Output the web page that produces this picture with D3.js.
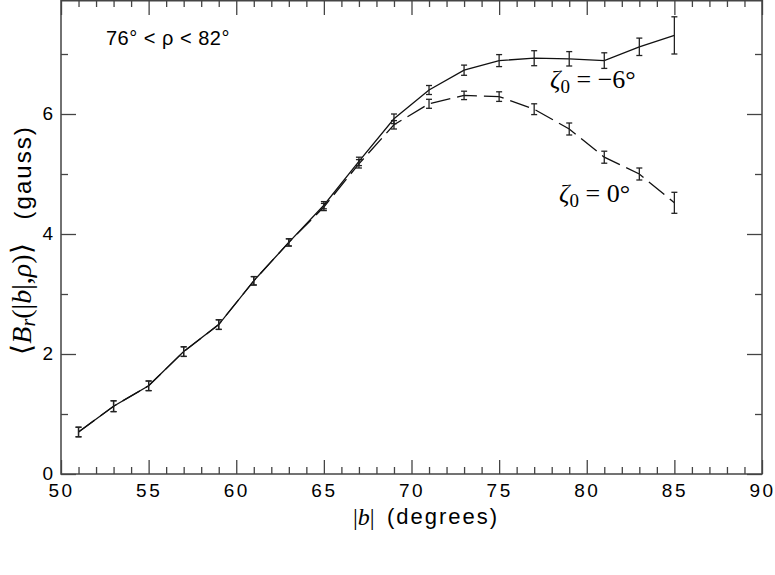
<!DOCTYPE html>
<html>
<head>
<meta charset="utf-8">
<script src="https://cdn.jsdelivr.net/npm/d3@7"></script>
<style>
  html, body { margin: 0; padding: 0; background: #fff; }
  svg { display: block; }
</style>
</head>
<body>
<svg id="chart" width="775" height="575"></svg>
<script>
// ---- data ----
const bValues = [51, 53, 55, 57, 59, 61, 63, 65, 67, 69, 71, 73, 75, 77, 79, 81, 83, 85];
const brZetaMinus6 = [0.70, 1.13, 1.47, 2.04, 2.49, 3.22, 3.86, 4.48, 5.21, 5.92, 6.40, 6.73, 6.89, 6.93, 6.92, 6.89, 7.12, 7.31];
const errZetaMinus6 = [0.08, 0.09, 0.08, 0.08, 0.08, 0.07, 0.06, 0.06, 0.07, 0.08, 0.075, 0.085, 0.10, 0.125, 0.12, 0.13, 0.145, 0.31];
const brZeta0 = [0.70, 1.13, 1.47, 2.04, 2.49, 3.22, 3.86, 4.45, 5.17, 5.82, 6.17, 6.31, 6.29, 6.08, 5.75, 5.28, 5.00, 4.52];
const errZeta0 = [0.08, 0.09, 0.08, 0.08, 0.08, 0.07, 0.06, 0.06, 0.07, 0.07, 0.075, 0.07, 0.08, 0.09, 0.10, 0.10, 0.10, 0.175];
const xMajorTicks = [50, 55, 60, 65, 70, 75, 80, 85, 90];
const yMajorTicks = [0, 2, 4, 6];
const xDomain = [50, 90];
const yDomain = [0, 7.9];

// ---- layout ----
const svg = d3.select("#chart");
const L = 61, R = 762, T = 0, B = 474;
const x = d3.scaleLinear().domain(xDomain).range([L, R]);
const y = d3.scaleLinear().domain(yDomain).range([B, T]);

const sans = "'Liberation Sans', Arial, Helvetica, sans-serif";
const serif = "'Liberation Serif', 'Times New Roman', serif";
const axisColor = "#444";

// frame
svg.append("rect")
  .attr("x", L).attr("y", T + 0.75)
  .attr("width", R - L).attr("height", B - T - 0.75)
  .attr("fill", "none").attr("stroke", axisColor).attr("stroke-width", 1.5);

const xMinor = d3.range(50, 91, 1).filter(v => v % 5 !== 0);
const yMinor = [1, 3, 5, 7];

function styleAxis(g) {
  g.select(".domain").remove();
  g.selectAll(".tick line").attr("stroke", axisColor).attr("stroke-width", 1.3);
}

// bottom major (labels)
svg.append("g").attr("transform", `translate(0,${B})`)
  .call(d3.axisBottom(x).tickValues(xMajorTicks).tickSize(-14).tickPadding(23).tickFormat(d3.format("d")))
  .call(styleAxis)
  .call(g => g.selectAll(".tick text")
      .attr("font-family", sans).attr("font-size", 19).attr("fill", "#000")
      .attr("letter-spacing", "2.5px").attr("dy", "0"));
svg.append("g").attr("transform", `translate(0,${B})`)
  .call(d3.axisBottom(x).tickValues(xMinor).tickSize(-7).tickFormat(""))
  .call(styleAxis);
svg.append("g").attr("transform", `translate(0,${T})`)
  .call(d3.axisTop(x).tickValues(xMajorTicks).tickSize(-15).tickFormat(""))
  .call(styleAxis);
svg.append("g").attr("transform", `translate(0,${T})`)
  .call(d3.axisTop(x).tickValues(xMinor).tickSize(-7).tickFormat(""))
  .call(styleAxis);
// left major (labels)
svg.append("g").attr("transform", `translate(${L},0)`)
  .call(d3.axisLeft(y).tickValues(yMajorTicks).tickSize(-15).tickPadding(8).tickFormat(d3.format("d")))
  .call(styleAxis)
  .call(g => g.selectAll(".tick text")
      .attr("font-family", sans).attr("font-size", 19).attr("fill", "#000").attr("dy", "0.3em"));
svg.append("g").attr("transform", `translate(${L},0)`)
  .call(d3.axisLeft(y).tickValues(yMinor).tickSize(-7).tickFormat(""))
  .call(styleAxis);
svg.append("g").attr("transform", `translate(${R},0)`)
  .call(d3.axisRight(y).tickValues(yMajorTicks).tickSize(-15).tickFormat(""))
  .call(styleAxis);
svg.append("g").attr("transform", `translate(${R},0)`)
  .call(d3.axisRight(y).tickValues(yMinor).tickSize(-7).tickFormat(""))
  .call(styleAxis);

// ---- series ----
function drawSeries(vals, errs, dash) {
  const pts = bValues.map((b, i) => ({ b, v: vals[i], e: errs[i] }));
  const line = d3.line().x(d => x(d.b)).y(d => y(d.v));
  const g = svg.append("g");
  g.append("path").datum(pts)
    .attr("d", line).attr("fill", "none")
    .attr("stroke", "#111").attr("stroke-width", 1.3)
    .attr("stroke-dasharray", dash || null);
  const eb = g.selectAll("g.eb").data(pts).enter().append("g");
  eb.append("line")
    .attr("x1", d => x(d.b)).attr("x2", d => x(d.b))
    .attr("y1", d => y(d.v - d.e)).attr("y2", d => y(d.v + d.e))
    .attr("stroke", "#222").attr("stroke-width", 1.3);
  [1, -1].forEach(s => {
    eb.append("line")
      .attr("x1", d => x(d.b) - 3).attr("x2", d => x(d.b) + 3)
      .attr("y1", d => y(d.v + s * d.e)).attr("y2", d => y(d.v + s * d.e))
      .attr("stroke", "#222").attr("stroke-width", 1.3);
  });
}
drawSeries(brZeta0, errZeta0, "20,7");
drawSeries(brZetaMinus6, errZetaMinus6, null);

// ---- annotations ----
svg.append("text")
  .attr("x", 106).attr("y", 45)
  .attr("font-family", sans).attr("font-size", 20).attr("fill", "#000")
  .attr("letter-spacing", "0.5px")
  .text("76° < ρ < 82°");

function zetaLabel(xp, yp, val) {
  const t = svg.append("text").attr("x", xp).attr("y", yp)
    .attr("font-family", serif).attr("font-size", 26).attr("fill", "#000");
  t.append("tspan").attr("font-style", "italic").text("ζ");
  t.append("tspan").attr("font-size", 19).attr("dy", 5).text("0");
  t.append("tspan").attr("dy", -5).text(" = " + val + "°");
}
zetaLabel(550, 88, "−6");
zetaLabel(559, 202, "0");

// x-axis label
const xl = svg.append("text").attr("x", 353).attr("y", 525).attr("fill", "#000");
xl.append("tspan").attr("font-family", serif).attr("font-size", 24).text("|");
xl.append("tspan").attr("font-family", serif).attr("font-size", 24).attr("font-style", "italic").text("b");
xl.append("tspan").attr("font-family", serif).attr("font-size", 24).text("|");
svg.append("text").attr("x", 387).attr("y", 524).attr("fill", "#000")
  .attr("font-family", sans).attr("font-size", 22).attr("letter-spacing", "2px")
  .text("(degrees)");

// y-axis label
const yl = svg.append("text")
  .attr("transform", "translate(31,240) rotate(-90)")
  .attr("text-anchor", "middle").attr("fill", "#000");
const mfs = 28;
yl.append("tspan").attr("font-family", serif).attr("font-size", mfs).text("⟨");
yl.append("tspan").attr("font-family", serif).attr("font-size", mfs).attr("font-style", "italic").text("B");
yl.append("tspan").attr("font-family", serif).attr("font-size", 20).attr("font-style", "italic").attr("dy", 4).text("r");
yl.append("tspan").attr("font-family", serif).attr("font-size", mfs).attr("dy", -4).text("(|");
yl.append("tspan").attr("font-family", serif).attr("font-size", mfs).attr("font-style", "italic").text("b");
yl.append("tspan").attr("font-family", serif).attr("font-size", mfs).text("|,");
yl.append("tspan").attr("font-family", serif).attr("font-size", mfs).attr("font-style", "italic").text("ρ");
yl.append("tspan").attr("font-family", serif).attr("font-size", mfs).text(")⟩");
yl.append("tspan").attr("font-family", sans).attr("font-size", 24).attr("letter-spacing", "2px").attr("dx", 24).text("(gauss)");
</script>
</body>
</html>
